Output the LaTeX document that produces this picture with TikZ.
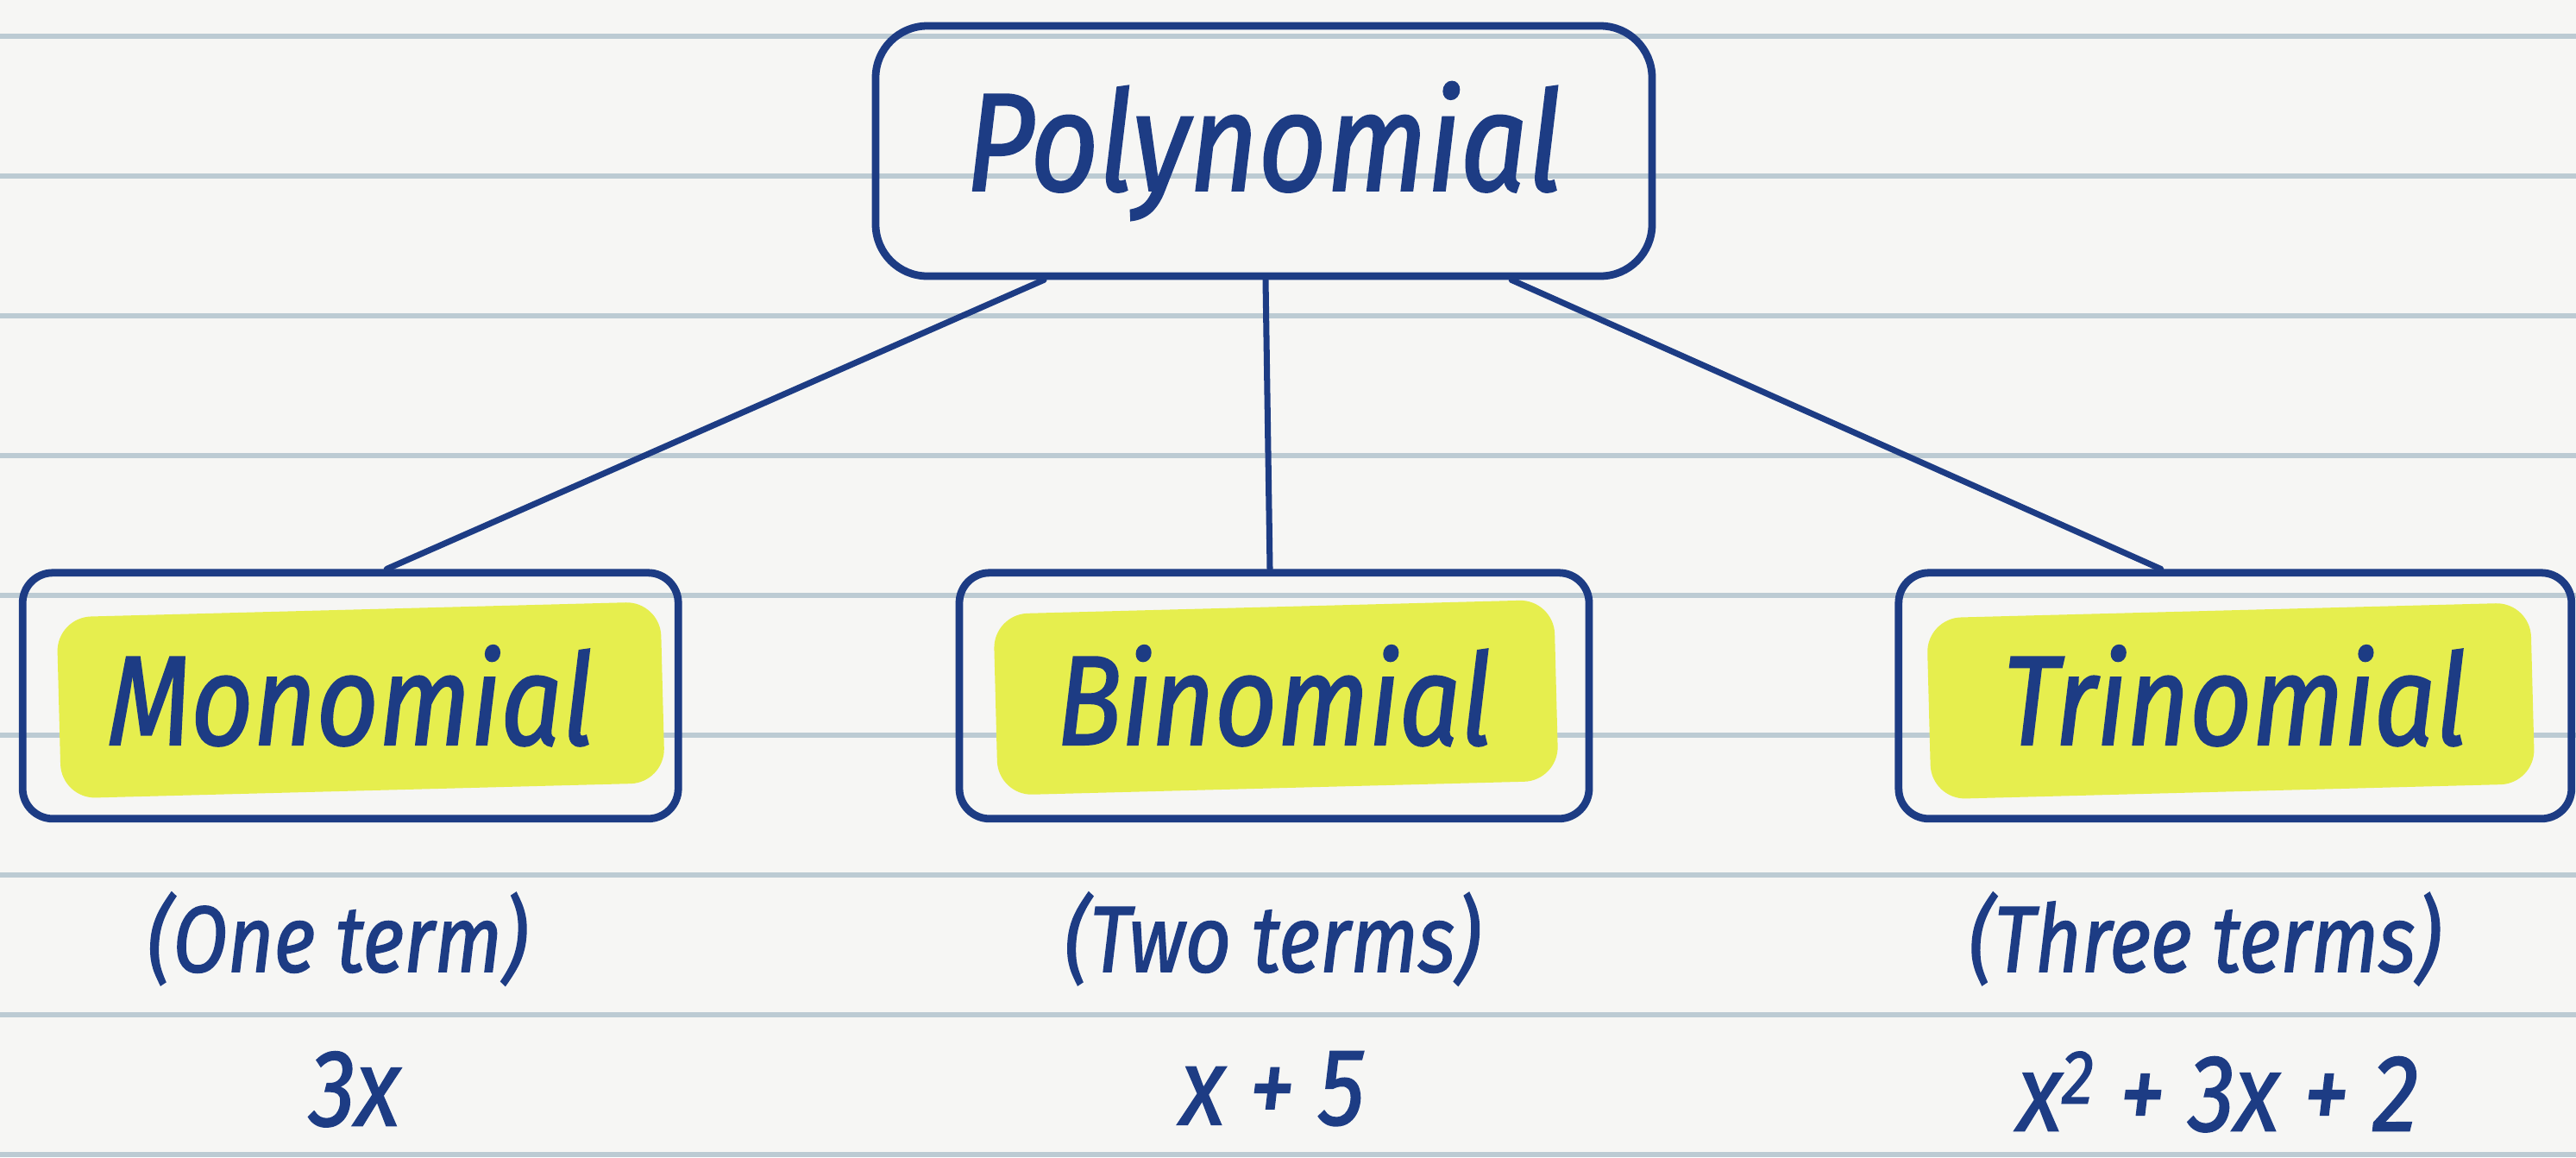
\documentclass[tikz,border=0pt]{standalone}
\usepackage{fontspec}
\setmainfont{Fira Sans}[FakeStretch=0.85, FakeBold=1.4]
\definecolor{ink}{HTML}{1D3C84}
\definecolor{paper}{HTML}{F6F6F4}
\definecolor{ruling}{HTML}{BCCBD3}
\definecolor{marker}{HTML}{E6EE4E}
\usetikzlibrary{positioning, backgrounds}

\begin{document}
\begin{tikzpicture}[
    polybox/.style={rectangle, draw=ink, line width=2.5pt, rounded corners=0.6cm, minimum width=9cm, minimum height=2.9cm, text=ink, font=\itshape\fontsize{46}{50}\selectfont},
    termbox/.style={rectangle, draw=ink, line width=2.5pt, rounded corners=0.35cm, minimum height=2.85cm, text=ink, font=\itshape\fontsize{42}{46}\selectfont},
    glow/.style={rectangle, fill=marker, rounded corners=0.4cm, minimum height=2.1cm, rotate=1.5},
    note/.style={inner sep=0pt, text=ink, font=\itshape\fontsize{31}{34}\selectfont},
    expr/.style={inner sep=0pt, text=ink, font=\itshape\fontsize{36}{40}\selectfont},
    link/.style={draw=ink, line width=2pt, line cap=round}
]
\useasboundingbox (0,0) rectangle (29.86,-13.41);
\begin{scope}[on background layer]
\fill[paper] (0,0) rectangle (29.86,-13.41);
\foreach \k in {0,...,8}
  \draw[ruling, line width=1.6pt] (0,-0.42-1.62*\k) -- (29.86,-0.42-1.62*\k);
\end{scope}

\node[polybox] (poly) at (14.65,-1.75) {Polynomial};
\node[termbox, minimum width=7.3cm, below=3.35cm of poly, xshift=0.12cm] (bino) {Binomial};
\node[termbox, minimum width=7.6cm, left=3.17cm of bino] (mono) {Monomial};
\node[termbox, minimum width=7.8cm, right=3.5cm of bino] (tri) {Trinomial};

% marker behind the names
\begin{scope}[on background layer]
\node[glow, minimum width=7cm] (monoHL) at ([xshift=0.12cm,yshift=-0.05cm]mono.center) {};
\node[glow, minimum width=6.5cm] (binoHL) at ([xshift=0.02cm,yshift=-0.02cm]bino.center) {};
\node[glow, minimum width=7cm] (triHL) at ([xshift=-0.05cm,yshift=-0.06cm]tri.center) {};
\end{scope}

\node[note, below=0.8cm of mono, xshift=-0.15cm] (monoN) {(One term)};
\node[note, below=0.8cm of bino, xshift=-0.02cm] (binoN) {(Two terms)};
\node[note, below=0.8cm of tri, xshift=-0.35cm] (triN) {(Three terms)};

\node[expr, below=0.75cm of monoN, xshift=0.2cm] (monoE) {3x};
\node[expr, below=0.75cm of binoN] (binoE) {x + 5};
\node[expr, below=0.75cm of triN, xshift=0.15cm] (triE) {x\textsuperscript{2} + 3x + 2};

\draw[link] ([xshift=-2.55cm]poly.south) -- ([xshift=0.42cm]mono.north);
\draw[link] ([xshift=0.02cm]poly.south) -- ([xshift=-0.05cm]bino.north);
\draw[link] ([xshift=2.87cm]poly.south) -- ([xshift=-0.86cm]tri.north);
\end{tikzpicture}
\end{document}
